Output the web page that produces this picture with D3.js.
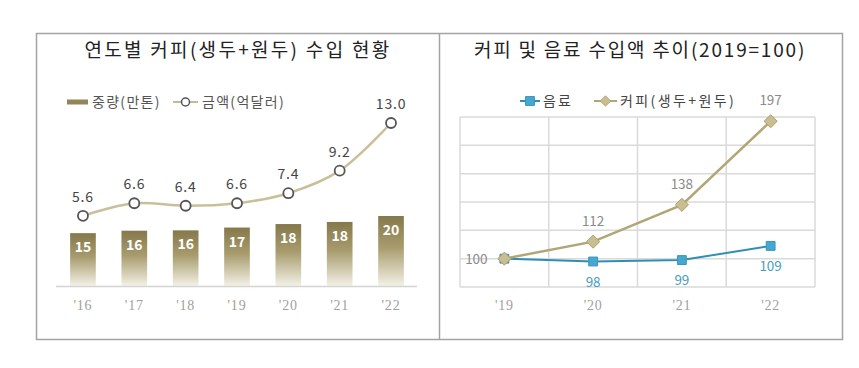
<!DOCTYPE html>
<html>
<head>
<meta charset="utf-8">
<script src="https://cdn.jsdelivr.net/npm/d3@7"></script>
<style>
  body { margin: 0; background: #fff; }
  svg { display: block; font-family: 'Noto Sans CJK KR', 'Noto Sans', sans-serif; }
</style>
</head>
<body>
<svg width="859" height="368"></svg>
<script>
// Data

const years = ["'16", "'17", "'18", "'19", "'20", "'21", "'22"]
const weight = [15.1, 15.8, 15.9, 16.7, 17.7, 18.3, 20.0]   // 중량(만톤)
const amount = [5.6, 6.6, 6.4, 6.6, 7.4, 9.2, 13.0]          // 금액(억달러)

const indexYears = ["'19", "'20", "'21", "'22"]
const beverage = [100, 98, 99, 109]
const coffee = [100, 112, 138, 197]
const indexTicks = [80, 100, 120, 140, 160, 180, 200]

// DOM

const svg = d3.select('svg')

const defs = svg.append('defs')

const grad = defs.append('linearGradient')
    .attr('id', 'barGrad')
    .attr('x1', 0).attr('y1', 0)
    .attr('x2', 0).attr('y2', 1)
grad.append('stop').attr('offset', '0%').attr('stop-color', '#85784a')
grad.append('stop').attr('offset', '45%').attr('stop-color', '#a89c6e')
grad.append('stop').attr('offset', '100%').attr('stop-color', '#f4f1e6')

// Frame

svg.append('rect')
    .attr('x', 36.5)
    .attr('y', 33.5)
    .attr('width', 806)
    .attr('height', 306)
    .attr('fill', 'none')
    .attr('stroke', '#a3a3a3')
    .attr('stroke-width', 1.5)

svg.append('line')
    .attr('x1', 439.5).attr('x2', 439.5)
    .attr('y1', 33.5).attr('y2', 339.5)
    .attr('stroke', '#a3a3a3')
    .attr('stroke-width', 1.5)

// Left chart

const left = svg.append('g')

left.append('text')
    .attr('x', 238)
    .attr('y', 57)
    .attr('text-anchor', 'middle')
    .attr('font-size', 19)
    .attr('letter-spacing', 2.3)
    .attr('fill', '#222')
    .text('연도별 커피(생두+원두) 수입 현황')

const base = 286

const x = d3.scaleBand()
    .domain(years)
    .range([57.3, 416.7])
    .paddingInner(0.5)
    .paddingOuter(0.25)

const yBar = d3.scaleLinear()
    .domain([0, 20])
    .range([base, 216])

const yLine = d3.scaleLinear()
    .domain([0, 13])
    .range([base, 123])

// legend
const legL = left.append('g')
    .attr('font-size', 14)
    .attr('letter-spacing', 1.3)
    .attr('fill', '#555')

legL.append('rect')
    .attr('x', 67).attr('y', 99.5)
    .attr('width', 21).attr('height', 5)
    .attr('fill', '#91855a')
legL.append('text')
    .attr('x', 92).attr('y', 107)
    .text('중량(만톤)')

legL.append('line')
    .attr('x1', 173).attr('x2', 198)
    .attr('y1', 102).attr('y2', 102)
    .attr('stroke', '#c4bb92')
    .attr('stroke-width', 2)
legL.append('circle')
    .attr('cx', 185.5).attr('cy', 102)
    .attr('r', 4)
    .attr('fill', '#fff')
    .attr('stroke', '#555')
    .attr('stroke-width', 1.5)
legL.append('text')
    .attr('x', 202).attr('y', 107)
    .text('금액(억달러)')

// bars
const bars = left.append('g')
    .selectAll('g')
    .data(weight)
    .join('g')

bars.append('rect')
    .attr('x', (d, i) => x(years[i]))
    .attr('y', d => yBar(d))
    .attr('width', x.bandwidth())
    .attr('height', d => base - yBar(d))
    .attr('fill', 'url(#barGrad)')

bars.append('text')
    .attr('x', (d, i) => x(years[i]) + x.bandwidth() / 2)
    .attr('y', d => yBar(d) + 19)
    .attr('text-anchor', 'middle')
    .attr('font-size', 14)
    .attr('font-weight', 'bold')
    .attr('fill', '#fff')
    .text(d => d3.format('.0f')(d))

left.append('line')
    .attr('x1', 56).attr('x2', 417)
    .attr('y1', base + 0.5).attr('y2', base + 0.5)
    .attr('stroke', '#d4d4d4')
    .attr('stroke-width', 1.5)

left.append('g')
    .selectAll('text')
    .data(years)
    .join('text')
    .attr('x', d => x(d) + x.bandwidth() / 2)
    .attr('y', 310)
    .attr('text-anchor', 'middle')
    .attr('font-family', "'Liberation Serif', serif")
    .attr('font-size', 14)
    .attr('letter-spacing', 0.8)
    .attr('fill', '#a0a0a0')
    .text(d => d)

// amount line
const cx = (d, i) => x(years[i]) + x.bandwidth() / 2

left.append('path')
    .datum(amount)
    .attr('d', d3.line()
      .x(cx)
      .y(d => yLine(d))
      .curve(d3.curveCatmullRom.alpha(0.5)))
    .attr('fill', 'none')
    .attr('stroke', '#c9c09a')
    .attr('stroke-width', 2.5)

left.append('g')
    .selectAll('circle')
    .data(amount)
    .join('circle')
    .attr('cx', cx)
    .attr('cy', d => yLine(d))
    .attr('r', 5)
    .attr('fill', '#fff')
    .attr('stroke', '#555')
    .attr('stroke-width', 1.8)

left.append('g')
    .selectAll('text')
    .data(amount)
    .join('text')
    .attr('x', cx)
    .attr('y', d => yLine(d) - 14)
    .attr('text-anchor', 'middle')
    .attr('font-size', 14)
    .attr('letter-spacing', 0.8)
    .attr('fill', '#444')
    .text(d => d3.format('.1f')(d))

// Right chart

const right = svg.append('g')

right.append('text')
    .attr('x', 640)
    .attr('y', 57)
    .attr('text-anchor', 'middle')
    .attr('font-size', 19)
    .attr('letter-spacing', 1.8)
    .attr('fill', '#222')
    .text('커피 및 음료 수입액 추이(2019=100)')

const x2 = d3.scaleBand()
    .domain(indexYears)
    .range([460, 815])

const y2 = d3.scaleLinear()
    .domain([80, 200])
    .range([287, 117])

const grid = right.append('g')
    .attr('stroke', '#dadada')
    .attr('stroke-width', 1.5)

grid.selectAll('line.h')
    .data(indexTicks)
    .join('line')
    .attr('class', 'h')
    .attr('x1', 460).attr('x2', 815)
    .attr('y1', d => y2(d)).attr('y2', d => y2(d))

grid.selectAll('line.v')
    .data([...indexYears.map(d => x2(d)), 815])
    .join('line')
    .attr('class', 'v')
    .attr('x1', d => d).attr('x2', d => d)
    .attr('y1', 117).attr('y2', 287)

right.append('g')
    .selectAll('text')
    .data(indexYears)
    .join('text')
    .attr('x', d => x2(d) + x2.bandwidth() / 2)
    .attr('y', 310)
    .attr('text-anchor', 'middle')
    .attr('font-family', "'Liberation Serif', serif")
    .attr('font-size', 14)
    .attr('letter-spacing', 0.8)
    .attr('fill', '#a0a0a0')
    .text(d => d)

const px = (d, i) => x2(indexYears[i]) + x2.bandwidth() / 2
const diamond = d3.symbol().type(d3.symbolDiamond2).size(110)
const square = d3.symbol().type(d3.symbolSquare2).size(100)

// legend
const legR = right.append('g')
    .attr('font-size', 14)
    .attr('fill', '#444')

legR.append('line')
    .attr('x1', 520).attr('x2', 540)
    .attr('y1', 101).attr('y2', 101)
    .attr('stroke', '#2f8fb3')
    .attr('stroke-width', 2)
legR.append('path')
    .attr('d', square)
    .attr('transform', 'translate(530,101)')
    .attr('fill', '#46a8cf')
    .attr('stroke', '#3a96ba')
legR.append('text')
    .attr('x', 543).attr('y', 106)
    .attr('letter-spacing', 2)
    .text('음료')

legR.append('line')
    .attr('x1', 594).attr('x2', 617)
    .attr('y1', 101).attr('y2', 101)
    .attr('stroke', '#b2a676')
    .attr('stroke-width', 2)
legR.append('path')
    .attr('d', diamond)
    .attr('transform', 'translate(605.5,101) scale(0.8)')
    .attr('fill', '#c9be90')
    .attr('stroke', '#ada071')
legR.append('text')
    .attr('x', 620).attr('y', 106)
    .attr('letter-spacing', 2.4)
    .text('커피(생두+원두)')

// beverage
right.append('path')
    .datum(beverage)
    .attr('d', d3.line().x(px).y(d => y2(d)))
    .attr('fill', 'none')
    .attr('stroke', '#2f8fb3')
    .attr('stroke-width', 2)

right.append('g')
    .selectAll('path')
    .data(beverage)
    .join('path')
    .attr('d', square)
    .attr('transform', (d, i) => `translate(${px(d, i)},${y2(d)})`)
    .attr('fill', '#46a8cf')
    .attr('stroke', '#3a96ba')
    .attr('stroke-width', 1)

right.append('g')
    .selectAll('text')
    .data(beverage)
    .join('text')
    .filter((d, i) => i > 0)
    .attr('x', (d, i) => px(d, i + 1))
    .attr('y', d => y2(d) + 25)
    .attr('text-anchor', 'middle')
    .attr('font-size', 13.5)
    .attr('fill', '#4a9cbf')
    .text(d => d)

// coffee
right.append('path')
    .datum(coffee)
    .attr('d', d3.line().x(px).y(d => y2(d)))
    .attr('fill', 'none')
    .attr('stroke', '#b2a676')
    .attr('stroke-width', 2.5)

right.append('g')
    .selectAll('path')
    .data(coffee)
    .join('path')
    .attr('d', diamond)
    .attr('transform', (d, i) => `translate(${px(d, i)},${y2(d)})`)
    .attr('fill', '#c9be90')
    .attr('stroke', '#ada071')
    .attr('stroke-width', 1)

right.append('g')
    .selectAll('text')
    .data(coffee)
    .join('text')
    .attr('x', (d, i) => i == 0 ? px(d, i) - 28 : px(d, i))
    .attr('y', (d, i) => i == 0 ? y2(d) + 5 : y2(d) - 16)
    .attr('text-anchor', 'middle')
    .attr('font-size', 13.5)
    .attr('fill', '#8a8a8a')
    .text(d => d)
</script>
</body>
</html>
